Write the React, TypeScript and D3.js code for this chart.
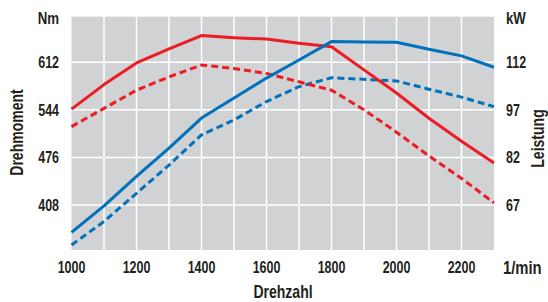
import React from "react";
import * as d3 from "d3";

const rpm = [1000, 1100, 1200, 1300, 1400, 1500, 1600, 1700, 1800, 1900, 2000, 2100, 2200, 2300];
const torqueFull = [545, 580, 611, 631, 650, 647, 645, 639, 634, 601, 568, 532, 499, 468];
const torquePart = [520, 546, 572, 591, 608, 603, 596, 584, 572, 544, 512, 478, 446, 411];
const powerFull = [58.4, 66.7, 76.0, 84.9, 94.4, 100.7, 107.0, 112.7, 118.5, 118.4, 118.3, 116.1, 114.0, 110.4];
const powerPart = [54.4, 61.8, 70.7, 79.6, 89.1, 93.8, 99.6, 104.3, 107.1, 106.6, 106.1, 103.5, 101.0, 98.0];

const xTicks = [1000, 1200, 1400, 1600, 1800, 2000, 2200];
const xGrid = [1100, 1200, 1300, 1400, 1500, 1600, 1700, 1800, 1900, 2000, 2100, 2200];
const nmTicks = [408, 476, 544, 612];
const kwTicks = [67, 82, 97, 112];

const RED = "#ed1c24";
const BLUE = "#0071bc";
const TEXT = "#231f20";
const FONT = "'Liberation Sans', Arial, sans-serif";
const SX = 0.78;

function T(props: { x: number; y: number; size: number; anchor?: string; rot?: number; children: React.ReactNode }) {
  const { x, y, size, anchor, rot, children } = props;
  const tr = `translate(${x},${y})${rot ? ` rotate(${rot})` : ""} scale(${SX},1)`;
  return (
    <text
      transform={tr}
      textAnchor={anchor || "start"}
      style={{ fontFamily: FONT, fontWeight: 700, fontSize: size, fill: TEXT }}
    >
      {children}
    </text>
  );
}

export default function App() {
  const left = 71.5, right = 494, top = 16.7, bottom = 250;
  const x = d3.scaleLinear().domain([1000, 2300]).range([left, right]);
  const yNm = d3.scaleLinear().domain([343.7, 677]).range([bottom, top]);
  const yKw = d3.scaleLinear().domain([52.82, 126.34]).range([bottom, top]);

  const lineNm = d3.line<number>().x((_, i) => x(rpm[i])).y((d) => yNm(d));
  const lineKw = d3.line<number>().x((_, i) => x(rpm[i])).y((d) => yKw(d));

  return (
    <svg width={548} height={302} style={{ position: "absolute", left: 0, top: 0 }}>
      <rect x={0} y={0} width={548} height={302} fill="#fff" />
      <rect x={left} y={top} width={right - left} height={bottom - top} fill="#d1d2d4" />
      {xGrid.map((v) => (
        <line key={"gx" + v} x1={x(v)} x2={x(v)} y1={top} y2={bottom} stroke="#fff" strokeWidth={1.5} />
      ))}
      {nmTicks.map((v) => (
        <line key={"gy" + v} x1={left} x2={right} y1={yNm(v)} y2={yNm(v)} stroke="#fff" strokeWidth={1.5} />
      ))}
      <path d={lineKw(powerPart) || ""} fill="none" stroke={BLUE} strokeWidth={3} strokeDasharray="7,4" />
      <path d={lineNm(torquePart) || ""} fill="none" stroke={RED} strokeWidth={3} strokeDasharray="7,4" />
      <path d={lineNm(torqueFull) || ""} fill="none" stroke={RED} strokeWidth={3} strokeLinejoin="round" />
      <path d={lineKw(powerFull) || ""} fill="none" stroke={BLUE} strokeWidth={3} strokeLinejoin="round" />

      {nmTicks.map((v) => (
        <T key={"nm" + v} x={59} y={yNm(v) + 5.8} size={16} anchor="end">{v}</T>
      ))}
      <T x={59} y={24} size={17} anchor="end">Nm</T>
      {kwTicks.map((v) => (
        <T key={"kw" + v} x={506} y={yKw(v) + 5.8} size={16}>{v}</T>
      ))}
      <T x={506} y={24} size={17}>kW</T>
      {xTicks.map((v) => (
        <T key={"xt" + v} x={x(v)} y={272.5} size={16} anchor="middle">{v}</T>
      ))}
      <T x={503} y={273.5} size={19}>1/min</T>
      <T x={283} y={297.5} size={18} anchor="middle">Drehzahl</T>
      <T x={22.5} y={132.5} size={18} anchor="middle" rot={-90}>Drehmoment</T>
      <T x={544} y={138.5} size={18} anchor="middle" rot={-90}>Leistung</T>
    </svg>
  );
}
